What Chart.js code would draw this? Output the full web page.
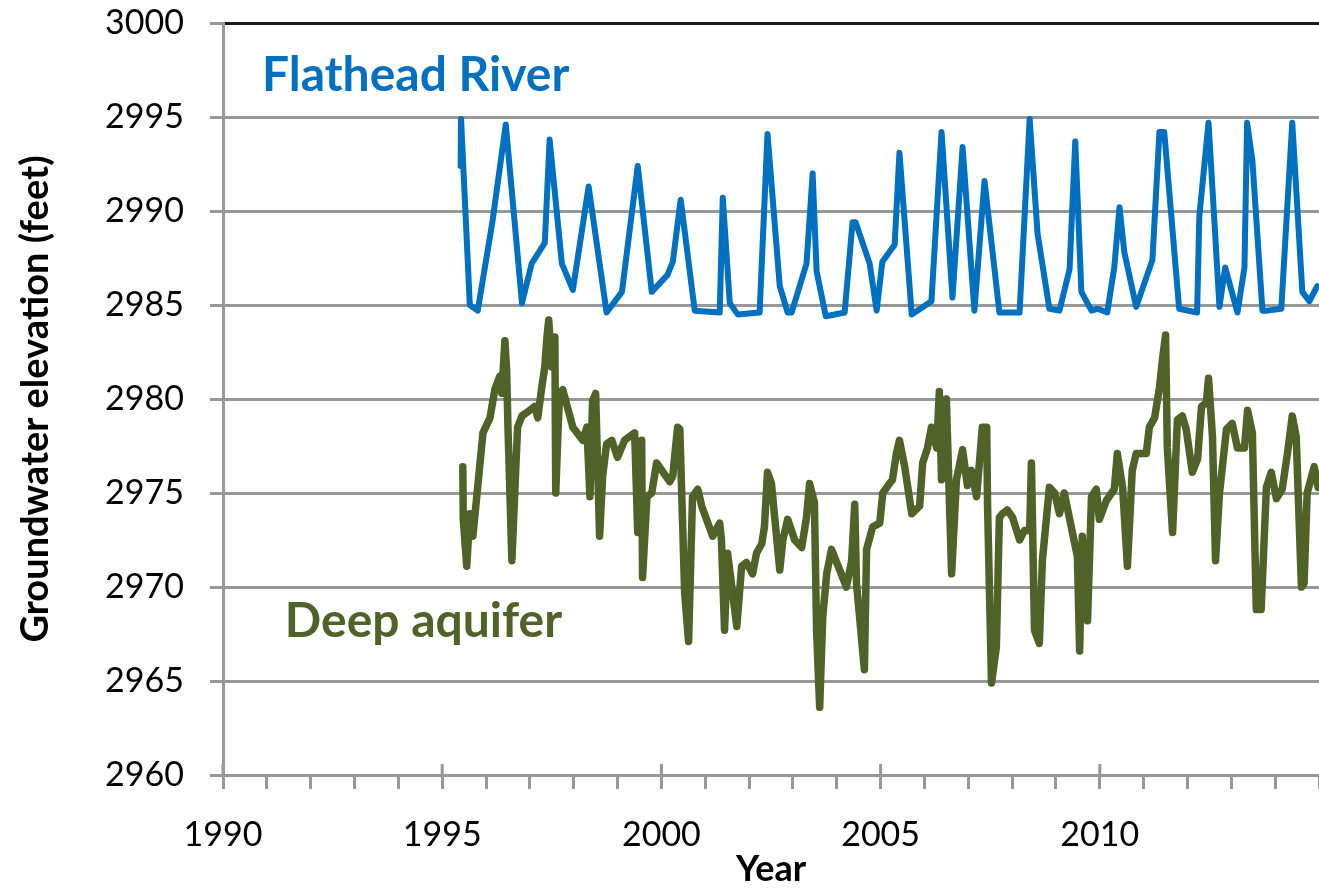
<!DOCTYPE html>
<html>
<head>
<meta charset="utf-8">
<script src="https://cdn.jsdelivr.net/npm/chart.js@4/dist/chart.umd.min.js"></script>
<style>
  html, body { margin: 0; padding: 0; background: #ffffff; }
  #wrap { width: 1319px; height: 891px; }
</style>
</head>
<body>
<div id="wrap"><canvas id="chart" width="1319" height="891"></canvas></div>
<script>
// Flathead River stage (feet), decimal year vs elevation
const riverYears = [
  1995.42,1995.43,1995.63,1995.81,1996.15,1996.45,1996.82,1997.04,1997.34,1997.45,
  1997.73,1997.98,1998.34,1998.75,1999.10,1999.46,1999.78,2000.14,2000.26,2000.44,
  2000.76,2001.33,2001.40,2001.56,2001.74,2002.24,2002.42,2002.70,2002.88,2002.97,
  2003.31,2003.45,2003.54,2003.75,2004.18,2004.36,2004.43,2004.75,2004.91,2005.04,
  2005.32,2005.43,2005.71,2006.16,2006.39,2006.64,2006.87,2007.14,2007.37,2007.71,
  2008.10,2008.17,2008.40,2008.58,2008.85,2009.08,2009.31,2009.44,2009.58,2009.81,
  2009.95,2010.17,2010.33,2010.45,2010.56,2010.83,2011.20,2011.36,2011.47,2011.81,
  2012.22,2012.27,2012.48,2012.73,2012.86,2013.14,2013.30,2013.36,2013.48,2013.71,
  2013.82,2014.14,2014.39,2014.62,2014.78,2014.96
];
const riverLevels = [
  2992.4,2994.9,2985.0,2984.7,2989.5,2994.6,2985.1,2987.2,2988.3,2993.8,
  2987.2,2985.8,2991.3,2984.6,2985.7,2992.4,2985.7,2986.6,2987.3,2990.6,
  2984.7,2984.6,2990.7,2985.1,2984.5,2984.6,2994.1,2986.0,2984.6,2984.6,
  2987.2,2992.0,2986.8,2984.4,2984.6,2989.4,2989.4,2987.2,2984.7,2987.3,
  2988.2,2993.1,2984.5,2985.2,2994.2,2985.4,2993.4,2984.7,2991.6,2984.6,
  2984.6,2984.6,2994.9,2988.8,2984.8,2984.7,2986.9,2993.7,2985.7,2984.7,
  2984.8,2984.6,2987.0,2990.2,2987.8,2984.9,2987.4,2994.2,2994.2,2984.8,
  2984.6,2989.7,2994.7,2984.9,2987.0,2984.6,2987.0,2994.7,2992.7,2984.7,
  2984.7,2984.8,2994.7,2985.7,2985.2,2986.0
];

// Deep aquifer groundwater elevation (feet)
const aquiferYears = [
  1995.47,1995.48,1995.56,1995.63,1995.70,1995.93,1996.09,1996.20,1996.31,1996.36,
  1996.43,1996.47,1996.50,1996.59,1996.66,1996.72,1996.82,1997.00,1997.11,1997.18,
  1997.27,1997.34,1997.39,1997.43,1997.50,1997.57,1997.59,1997.64,1997.68,1997.75,
  1997.98,1998.21,1998.30,1998.37,1998.43,1998.50,1998.59,1998.66,1998.75,1998.87,
  1999.00,1999.16,1999.39,1999.46,1999.55,1999.57,1999.67,1999.78,1999.89,2000.19,
  2000.26,2000.30,2000.37,2000.42,2000.49,2000.53,2000.62,2000.71,2000.83,2000.92,
  2001.17,2001.33,2001.37,2001.44,2001.51,2001.72,2001.83,2001.94,2002.08,2002.17,
  2002.29,2002.35,2002.42,2002.51,2002.70,2002.77,2002.88,2003.04,2003.20,2003.31,
  2003.38,2003.49,2003.54,2003.61,2003.68,2003.77,2003.88,2004.00,2004.22,2004.34,
  2004.41,2004.45,2004.63,2004.68,2004.82,2004.98,2005.05,2005.20,2005.27,2005.36,
  2005.43,2005.55,2005.71,2005.89,2005.96,2006.07,2006.16,2006.28,2006.34,2006.39,
  2006.50,2006.62,2006.73,2006.87,2006.98,2007.07,2007.19,2007.32,2007.42,2007.44,
  2007.53,2007.64,2007.71,2007.78,2007.89,2008.01,2008.17,2008.28,2008.40,2008.44,
  2008.51,2008.62,2008.69,2008.85,2008.97,2009.08,2009.19,2009.49,2009.54,2009.60,
  2009.72,2009.81,2009.92,2009.99,2010.15,2010.33,2010.40,2010.52,2010.63,2010.74,
  2010.83,2011.06,2011.13,2011.25,2011.36,2011.43,2011.50,2011.54,2011.66,2011.77,
  2011.88,2011.97,2012.11,2012.23,2012.32,2012.43,2012.48,2012.57,2012.64,2012.73,
  2012.89,2013.02,2013.14,2013.30,2013.37,2013.48,2013.57,2013.68,2013.80,2013.91,
  2014.03,2014.16,2014.28,2014.39,2014.48,2014.60,2014.66,2014.73,2014.89,2014.98
];
const aquiferLevels = [
  2976.4,2973.6,2971.1,2973.9,2972.7,2978.2,2979.0,2980.5,2981.2,2980.3,
  2983.1,2981.5,2978.5,2971.4,2975.3,2978.5,2979.1,2979.4,2979.6,2979.0,
  2980.6,2981.7,2983.3,2984.2,2981.7,2983.3,2975.0,2978.2,2980.3,2980.5,
  2978.5,2977.8,2978.5,2974.8,2979.9,2980.3,2972.7,2975.9,2977.6,2977.8,
  2976.9,2977.8,2978.2,2972.9,2977.8,2970.5,2974.8,2975.0,2976.6,2975.6,
  2975.9,2976.9,2978.5,2978.4,2972.9,2969.7,2967.1,2974.8,2975.2,2974.3,
  2972.7,2973.4,2972.5,2967.7,2971.8,2967.9,2971.1,2971.3,2970.7,2971.8,
  2972.3,2973.2,2976.1,2975.5,2970.9,2972.5,2973.6,2972.5,2972.1,2973.7,
  2975.5,2974.5,2967.7,2963.6,2968.4,2970.7,2972.0,2971.3,2970.0,2971.4,
  2974.4,2970.2,2965.6,2972.0,2973.2,2973.4,2975.0,2975.5,2975.7,2977.1,
  2977.8,2976.4,2973.9,2974.3,2976.6,2977.4,2978.5,2977.4,2980.4,2975.7,
  2980.0,2970.7,2975.7,2977.3,2975.4,2976.2,2974.8,2978.5,2978.5,2974.3,
  2964.9,2966.8,2973.7,2973.9,2974.1,2973.7,2972.5,2973.0,2973.0,2976.6,
  2967.7,2967.0,2971.4,2975.3,2975.0,2973.9,2975.0,2971.6,2966.6,2972.7,
  2968.2,2974.8,2975.2,2973.6,2974.6,2975.2,2977.1,2975.3,2971.1,2976.2,
  2977.1,2977.1,2978.5,2979.0,2980.6,2982.1,2983.4,2977.4,2972.9,2978.9,
  2979.1,2978.4,2976.1,2976.8,2979.6,2979.8,2981.1,2978.0,2971.4,2975.0,
  2978.4,2978.7,2977.4,2977.4,2979.4,2978.2,2968.8,2968.8,2975.3,2976.1,
  2974.7,2975.2,2977.1,2979.1,2978.0,2970.0,2970.2,2975.0,2976.4,2975.3
];

// Axis ticks and labels
const labelledYears = [1990, 1995, 2000, 2005, 2010];
const elevationTicks = [2960, 2965, 2970, 2975, 2980, 2985, 2990, 2995, 3000];
const seriesNames = ['Flathead River', 'Deep aquifer'];
const axisTitles = { x: 'Year', y: 'Groundwater elevation (feet)' };

// Styling
const RIVER_COLOR = '#0070C0';
const AQUIFER_COLOR = '#4F6228';
const AXIS_GRAY = '#989898';
const FONT = 'Lato, "Open Sans", sans-serif';

// Where the in-plot series names sit (data coordinates of their left baseline)
const nameAnchors = [
  { x: 1990.89, y: 2996.4, color: RIVER_COLOR },
  { x: 1991.41, y: 2967.35, color: AQUIFER_COLOR }
];

const toPoints = (xs, ys) => xs.map((x, i) => ({ x, y: ys[i] }));

// Draws the long cross ticks on the year axis and the series names
const decorations = {
  id: 'decorations',
  afterDraw(chart) {
    const { ctx, scales: { x, y } } = chart;
    ctx.save();
    ctx.strokeStyle = AXIS_GRAY;
    ctx.lineWidth = 3;
    labelledYears.forEach(yr => {
      const px = x.getPixelForValue(yr);
      ctx.beginPath();
      ctx.moveTo(px, y.bottom - 11);
      ctx.lineTo(px, y.bottom);
      ctx.stroke();
    });
    ctx.font = 'bold 48px ' + FONT;
    ctx.textAlign = 'left';
    ctx.textBaseline = 'alphabetic';
    nameAnchors.forEach((a, i) => {
      ctx.fillStyle = a.color;
      ctx.fillText(seriesNames[i], x.getPixelForValue(a.x), y.getPixelForValue(a.y));
    });
    ctx.restore();
  }
};

new Chart(document.getElementById('chart'), {
  type: 'line',
  data: {
    datasets: [
      {
        label: seriesNames[0],
        data: toPoints(riverYears, riverLevels),
        borderColor: RIVER_COLOR,
        borderWidth: 6,
        pointRadius: 0,
        tension: 0,
        borderJoinStyle: 'round',
        borderCapStyle: 'round'
      },
      {
        label: seriesNames[1],
        data: toPoints(aquiferYears, aquiferLevels),
        borderColor: AQUIFER_COLOR,
        borderWidth: 7.5,
        pointRadius: 0,
        tension: 0,
        borderJoinStyle: 'round',
        borderCapStyle: 'round'
      }
    ]
  },
  options: {
    responsive: false,
    devicePixelRatio: 1,
    animation: false,
    layout: { padding: { top: 23, right: 0, bottom: 0, left: 0 } },
    plugins: {
      legend: { display: false },
      tooltip: { enabled: false }
    },
    scales: {
      x: {
        type: 'linear',
        min: 1990,
        max: 2015,
        afterFit(scale) {
          scale.height = 116;
          scale.paddingLeft = 0;
          scale.paddingRight = 0;
        },
        afterBuildTicks(scale) {
          const t = [];
          for (let v = 1990; v <= 2015; v++) t.push({ value: v });
          scale.ticks = t;
        },
        ticks: {
          autoSkip: false,
          maxRotation: 0,
          padding: 26,
          color: '#000000',
          font: { family: FONT, size: 34 },
          callback: v => (labelledYears.includes(v) ? String(v) : '')
        },
        grid: {
          drawOnChartArea: false,
          drawTicks: true,
          tickLength: 14,
          tickColor: AXIS_GRAY,
          tickWidth: 3,
          color: AXIS_GRAY,
          lineWidth: 3
        },
        border: { display: true, color: AXIS_GRAY, width: 3 },
        title: {
          display: true,
          text: axisTitles.x,
          color: '#000000',
          font: { family: FONT, size: 36, weight: 'bold' },
          padding: { top: 0, bottom: 0 }
        }
      },
      y: {
        min: 2960,
        max: 3000,
        afterFit(scale) {
          scale.width = 223;
          scale.paddingTop = 0;
          scale.paddingBottom = 0;
        },
        afterBuildTicks(scale) {
          scale.ticks = elevationTicks.map(v => ({ value: v }));
        },
        ticks: {
          padding: 26,
          color: '#000000',
          font: { family: FONT, size: 34 },
          callback: v => String(v)
        },
        grid: {
          color: ctx => (ctx.tick && ctx.tick.value === 3000 ? '#1a1a1a' : AXIS_GRAY),
          lineWidth: 3,
          tickLength: 13,
          tickColor: AXIS_GRAY,
          tickWidth: 3
        },
        border: { display: true, color: AXIS_GRAY, width: 3 },
        title: {
          display: true,
          text: axisTitles.y,
          color: '#000000',
          font: { family: FONT, size: 38, weight: 'bold' },
          padding: { top: 13, bottom: 0 }
        }
      }
    }
  },
  plugins: [decorations]
});
</script>
</body>
</html>
